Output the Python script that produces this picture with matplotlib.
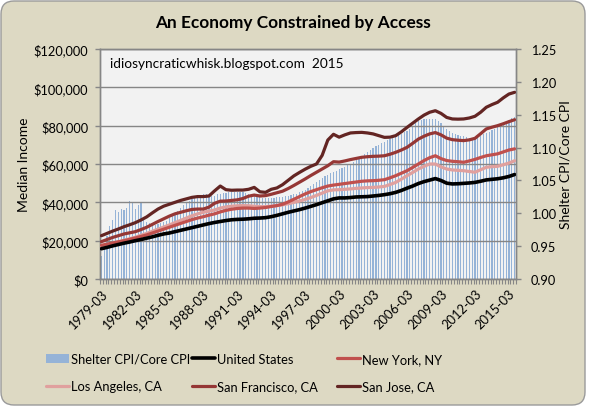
import numpy as np
import matplotlib
matplotlib.use("Agg")
import matplotlib.pyplot as plt
from matplotlib.patches import FancyBboxPatch, Patch
from matplotlib.ticker import FuncFormatter, MultipleLocator, FixedLocator

plt.rcParams['font.family'] = ['Lato', 'DejaVu Sans']

# ---------------- data ----------------
x_labels = ["1979-03", "1982-03", "1985-03", "1988-03", "1991-03", "1994-03",
            "1997-03", "2000-03", "2003-03", "2006-03", "2009-03", "2012-03", "2015-03"]

# quarterly, 1979-03 .. 2015-09 (147 quarters)
shelter_ratio = [
    0.935, 0.950, 0.965, 0.980,  0.990, 1.005, 1.002, 1.006,
    1.005, 1.008, 1.019, 1.016,  1.006, 1.013, 1.016, 0.995,
    0.987, 0.985, 0.983, 0.982,  0.983, 0.985, 0.987, 0.989,
    0.993, 0.996, 1.000, 1.003,  1.008, 1.012, 1.016, 1.019,
    1.022, 1.024, 1.026, 1.028,  1.029, 1.029, 1.028, 1.027,
    1.027, 1.029, 1.030, 1.031,  1.031, 1.032, 1.033, 1.033,
    1.033, 1.033, 1.032, 1.031,  1.030, 1.028, 1.026, 1.025,
    1.025, 1.024, 1.024, 1.024,  1.024, 1.024, 1.025, 1.025,
    1.025, 1.026, 1.027, 1.028,  1.029, 1.030, 1.032, 1.034,
    1.036, 1.039, 1.042, 1.045,  1.048, 1.051, 1.054, 1.057,
    1.059, 1.061, 1.063, 1.065,  1.067, 1.069, 1.071, 1.073,
    1.075, 1.078, 1.081, 1.084,  1.087, 1.090, 1.093, 1.096,
    1.099, 1.102, 1.104, 1.107,  1.109, 1.111, 1.113, 1.115,
    1.117, 1.119, 1.121, 1.123,  1.125, 1.129, 1.133, 1.137,
    1.140, 1.142, 1.143, 1.144,  1.144, 1.144, 1.143, 1.140,
    1.137, 1.133, 1.129, 1.125,  1.122, 1.120, 1.119, 1.118,
    1.117, 1.116, 1.115, 1.115,  1.116, 1.117, 1.118, 1.120,
    1.122, 1.124, 1.127, 1.129,  1.132, 1.135, 1.138, 1.140,
    1.142, 1.145, 1.147,
]

# median income ($ thousands), semi-annual readings: 1979-03, 1979-09, ... 2015-09
united_states = [
    15.8, 16.5, 17.3, 18.0, 18.7, 19.3, 20.0, 20.6, 21.3, 22.0,
    22.8, 23.5, 24.0, 24.7, 25.4, 26.1, 26.8, 27.5, 28.2, 28.9,
    29.5, 30.0, 30.5, 30.9, 31.1, 31.2, 31.4, 31.7, 31.8, 32.0,
    32.5, 33.2, 34.0, 34.8, 35.5, 36.2, 37.0, 37.9, 38.8, 39.8,
    40.8, 41.8, 42.3, 42.3, 42.5, 42.8, 42.9, 43.0, 43.3, 43.6,
    44.0, 44.5, 45.2, 46.2, 47.4, 48.5, 49.8, 50.8, 51.6, 52.4,
    51.4, 50.0, 49.6, 49.7, 49.9, 50.1, 50.4, 51.0, 51.7, 52.0,
    52.3, 52.8, 53.5, 54.5,
]
new_york = [
    17.6, 18.2, 18.8, 19.4, 20.0, 20.7, 21.4, 22.2, 23.0, 24.0,
    25.0, 26.0, 27.0, 28.0, 29.0, 30.0, 31.0, 31.8, 32.5, 33.3,
    34.0, 35.0, 35.8, 36.4, 36.8, 37.0, 37.0, 36.8, 37.0, 37.3,
    37.8, 38.3, 39.0, 40.2, 41.6, 43.0, 44.4, 45.6, 46.6, 47.6,
    48.5, 49.0, 49.4, 49.8, 50.2, 50.6, 51.0, 51.2, 51.3, 51.5,
    51.8, 52.8, 53.9, 55.2, 56.5, 58.2, 60.0, 61.8, 63.3, 64.3,
    62.8, 61.8, 61.4, 61.2, 60.9, 61.6, 62.4, 63.4, 64.3, 64.8,
    65.3, 66.3, 67.3, 67.9,
]
los_angeles = [
    17.0, 17.8, 18.6, 19.4, 20.2, 21.0, 21.8, 22.8, 23.8, 24.9,
    26.0, 27.1, 28.2, 29.4, 30.6, 31.8, 33.0, 34.0, 34.8, 35.4,
    36.0, 37.0, 37.6, 38.0, 38.2, 38.3, 38.2, 38.0, 37.8, 37.8,
    38.0, 38.3, 38.7, 39.3, 40.0, 40.7, 41.5, 42.5, 43.6, 44.8,
    46.0, 46.5, 46.6, 46.8, 47.0, 47.3, 47.5, 47.7, 47.8, 48.0,
    48.3, 49.3, 50.4, 52.1, 53.9, 55.6, 57.4, 58.8, 60.0, 60.0,
    58.5, 57.4, 56.9, 56.7, 56.5, 56.1, 55.7, 57.0, 58.3, 58.6,
    58.8, 59.6, 60.5, 61.7,
]
san_francisco = [
    19.5, 20.6, 21.7, 22.6, 23.5, 24.1, 24.7, 25.8, 27.0, 28.5,
    30.0, 31.4, 32.8, 34.0, 34.8, 35.6, 36.3, 36.5, 36.5, 37.5,
    39.5, 40.6, 40.7, 41.0, 41.3, 42.0, 43.2, 43.8, 43.3, 43.5,
    44.2, 45.0, 45.8, 47.2, 48.8, 50.5, 52.2, 54.0, 55.7, 57.4,
    59.1, 61.2, 61.0, 61.6, 62.3, 62.9, 63.5, 63.8, 64.0, 64.1,
    64.3, 65.1, 66.1, 67.3, 68.7, 70.8, 73.0, 74.5, 75.7, 76.4,
    75.2, 73.5, 72.7, 72.4, 72.2, 72.6, 73.4, 75.8, 78.3, 79.2,
    80.0, 81.0, 82.1, 83.1,
]
san_jose = [
    22.6, 23.8, 25.0, 26.1, 27.3, 28.3, 29.4, 30.8, 32.4, 34.5,
    36.5, 38.0, 39.0, 40.0, 41.0, 41.8, 42.6, 43.0, 43.0, 43.3,
    46.0, 48.5, 46.6, 46.3, 46.4, 46.4, 46.8, 47.8, 45.5, 45.2,
    46.8, 47.5, 49.2, 51.5, 53.8, 55.6, 57.3, 58.8, 60.0, 64.5,
    72.5, 75.5, 74.0, 75.2, 76.2, 76.4, 76.5, 76.2, 75.7, 74.8,
    73.9, 74.0, 74.8, 76.8, 79.1, 81.3, 83.5, 85.5, 87.0, 87.8,
    86.4, 84.3, 83.5, 83.4, 83.5, 84.0, 84.9, 87.0, 89.6, 91.0,
    92.2, 94.5, 96.5, 97.4,
]

# ---------------- figure ----------------
W, H = 589, 410
fig = plt.figure(figsize=(W / 100, H / 100), dpi=100)
fig.patch.set_facecolor('white')

bg = FancyBboxPatch((0.01, 0.04), 5.84, 4.04,
                    boxstyle="round,pad=0,rounding_size=0.13",
                    transform=fig.dpi_scale_trans, facecolor='#DDD9C3',
                    edgecolor='#9A9A9A', linewidth=1.0, zorder=-10)
fig.patches.append(bg)

L, R, T, B = 100, 516, 50, 280
rect = [L / W, (H - B) / H, (R - L) / W, (B - T) / H]
ax = fig.add_axes(rect)
ax2 = ax.twinx()
ax2.set_zorder(1)
ax.set_zorder(2)
ax.patch.set_visible(False)
ax2.patch.set_visible(True)
ax2.patch.set_facecolor('#F2F2F2')

n = len(shelter_ratio)
xq = np.arange(n)
xs = np.arange(0, n, 2)

# bars on right axis
ax2.bar(xq, np.array(shelter_ratio) - 0.90, bottom=0.90, width=0.42,
        color='#95B3D7', linewidth=0, zorder=2)
ax2.set_ylim(0.90, 1.25)
ax2.yaxis.set_major_locator(MultipleLocator(0.05))
ax2.yaxis.set_major_formatter(FuncFormatter(lambda v, p: f"{v:.2f}"))

# lines on left axis
k = 1000.0
series = {
    'United States': (united_states, '#000000', 2.6),
    'New York, NY': (new_york, '#C0504D', 2.3),
    'Los Angeles, CA': (los_angeles, '#E0A09E', 2.3),
    'San Francisco, CA': (san_francisco, '#953735', 2.3),
    'San Jose, CA': (san_jose, '#632523', 2.3),
}
handles = {}
for name in ['Los Angeles, CA', 'New York, NY', 'San Francisco, CA',
             'San Jose, CA', 'United States']:
    vals, col, lw = series[name]
    ln, = ax.plot(xs, np.array(vals) * k, color=col, lw=lw, zorder=3,
                  solid_capstyle='round', solid_joinstyle='round')
    handles[name] = ln

ax.set_ylim(0, 120000)
ax.set_xlim(-0.5, n - 0.5)
ax2.set_xlim(-0.5, n - 0.5)
ax.yaxis.set_major_locator(MultipleLocator(20000))
ax.yaxis.set_major_formatter(FuncFormatter(lambda v, p: f"${v:,.0f}"))
ax.grid(True, axis='y', color='#868686', linewidth=1.0, zorder=1)
ax.set_axisbelow(True)

# x ticks: tick marks at every category boundary, labels every 12 quarters
label_pos = np.arange(0, n, 12)[:len(x_labels)]
ax.xaxis.set_major_locator(FixedLocator(label_pos))
ax.set_xticklabels(x_labels, rotation=45, ha='right', va='top',
                   rotation_mode='anchor', fontsize=9.3)
ax.xaxis.set_minor_locator(FixedLocator(np.arange(n + 1) - 0.5))
ax.tick_params(axis='x', which='major', length=0, pad=6)
ax.tick_params(axis='x', which='minor', length=3.5, color='#868686', width=0.8)
ax2.tick_params(axis='x', which='both', length=0, labelbottom=False)

ax.tick_params(axis='y', length=3.5, color='#868686', width=1.0, pad=5, labelsize=9.2)
ax2.tick_params(axis='y', length=3.5, color='#868686', width=1.0, pad=7, labelsize=9.2)

for a in (ax, ax2):
    for s in ['left', 'right', 'bottom', 'top']:
        a.spines[s].set_color('#868686')
        a.spines[s].set_linewidth(1.0)

# texts
fig.text(293 / W, (H - 23) / H, 'An Economy Constrained by Access',
         ha='center', va='center', fontsize=12.4, fontweight='bold')
fig.text(110 / W, (H - 64) / H, 'idiosyncraticwhisk.blogspot.com  2015',
         ha='left', va='center', fontsize=9.8)
fig.text(24 / W, (H - 165) / H, 'Median Income', rotation=90,
         ha='center', va='center', fontsize=10)
fig.text(565 / W, (H - 165) / H, 'Shelter CPI/Core CPI', rotation=90,
         ha='center', va='center', fontsize=10)

# legend: three columns placed like the original
bar_handle = Patch(facecolor='#95B3D7', edgecolor='none')
cols = [
    (46, [(bar_handle, 'Shelter CPI/Core CPI'), (handles['Los Angeles, CA'], 'Los Angeles, CA')]),
    (192, [(handles['United States'], 'United States'), (handles['San Francisco, CA'], 'San Francisco, CA')]),
    (337, [(handles['New York, NY'], 'New York, NY'), (handles['San Jose, CA'], 'San Jose, CA')]),
]
for xpx, items in cols:
    fig.legend([h for h, _ in items], [t for _, t in items],
               loc='center left', bbox_to_anchor=(xpx / W, (H - 373.5) / H),
               frameon=False, fontsize=9.3, handlelength=1.75,
               handletextpad=0.2, labelspacing=1.2, borderpad=0,
               borderaxespad=0)

fig.savefig('out.png', dpi=100, facecolor=fig.get_facecolor())
